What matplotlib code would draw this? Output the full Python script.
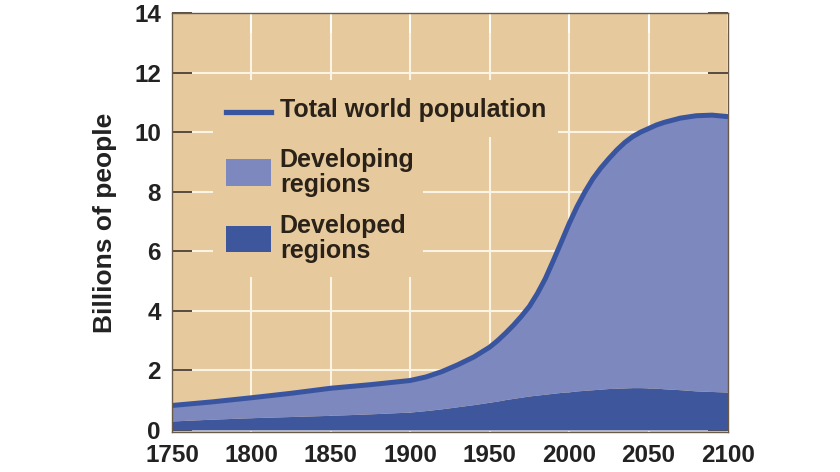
import matplotlib
matplotlib.use("Agg")
import matplotlib.pyplot as plt
from matplotlib.patches import Rectangle
from matplotlib.lines import Line2D

years = [1750, 1775, 1800, 1825, 1850, 1875, 1900, 1910, 1920, 1930, 1940, 1950,
         1955, 1960, 1965, 1970, 1975, 1980, 1985, 1990, 1995, 2000, 2005, 2010,
         2015, 2020, 2025, 2030, 2035, 2040, 2045, 2050, 2055, 2060, 2070, 2080,
         2090, 2100]
total = [0.82, 0.94, 1.08, 1.23, 1.40, 1.52, 1.66, 1.78, 1.96, 2.19, 2.45, 2.78,
         3.00, 3.25, 3.52, 3.82, 4.15, 4.58, 5.08, 5.68, 6.30, 6.93, 7.50, 8.00,
         8.44, 8.80, 9.11, 9.40, 9.65, 9.85, 10.00, 10.12, 10.24, 10.33, 10.47, 10.55,
         10.57, 10.52]
developed = [0.30, 0.36, 0.41, 0.45, 0.49, 0.54, 0.60, 0.65, 0.71, 0.78, 0.85, 0.93,
             0.97, 1.02, 1.06, 1.10, 1.14, 1.17, 1.20, 1.23, 1.26, 1.28, 1.31, 1.33,
             1.35, 1.37, 1.39, 1.40, 1.41, 1.42, 1.42, 1.41, 1.40, 1.38, 1.35, 1.31,
             1.29, 1.27]
x_ticks = [1750, 1800, 1850, 1900, 1950, 2000, 2050, 2100]
y_ticks = [0, 2, 4, 6, 8, 10, 12, 14]
legend_labels = ["Total world population", "Developing\nregions", "Developed\nregions"]

BG = "#E6CA9E"
DEVELOPING = "#7D88BF"
DEVELOPED = "#3E569C"
LINE = "#3A55A0"
GRID = "#FBF3E3"
DARK = "#4A3C30"
FONT = ["Liberation Sans", "DejaVu Sans"]

plt.rcParams["font.family"] = FONT
plt.rcParams["font.weight"] = "bold"

fig = plt.figure(figsize=(8.4, 4.72), dpi=100)
ax = fig.add_axes([172 / 840, 1 - 432 / 472, 556 / 840, 419 / 472])
ax.set_facecolor(BG)
ax.set_xlim(1750, 2100)
ax.set_ylim(-0.07, 14)

# grid
ax.set_xticks(x_ticks)
ax.set_yticks(y_ticks)
ax.grid(True, color=GRID, linewidth=1.5, zorder=0)
ax.set_axisbelow(True)

# masks behind the legend text (break the grid)
ax.add_patch(Rectangle((0.074, 0.704), 0.62, 0.136, transform=ax.transAxes,
                       facecolor=BG, edgecolor="none", zorder=1))
ax.add_patch(Rectangle((0.074, 0.370), 0.377, 0.334, transform=ax.transAxes,
                       facecolor=BG, edgecolor="none", zorder=1))

# areas
ax.fill_between(years, 0, developed, color=DEVELOPED, linewidth=0, zorder=2)
ax.fill_between(years, developed, total, color=DEVELOPING, linewidth=0, zorder=2)
ax.plot(years, total, color=LINE, linewidth=3.6, solid_capstyle="butt",
        solid_joinstyle="round", zorder=3)

# ticks
ax.tick_params(axis="both", direction="in", length=14.5, width=1.3,
               top=True, right=True, labelsize=17.5, colors=DARK)
ax.tick_params(axis="x", bottom=True, color="white", pad=9, labelcolor="#222222")
ax.tick_params(axis="y", pad=8, labelcolor="#222222")
for t in ax.xaxis.get_major_ticks():
    t.tick1line.set_color("white")
    t.tick2line.set_color(DARK)
for t, v in zip(ax.yaxis.get_major_ticks(), y_ticks):
    t.tick1line.set_color(DARK if v > total[0] else "none")
    t.tick2line.set_color(DARK if v > total[-1] else GRID)
for lab in ax.get_xticklabels() + ax.get_yticklabels():
    lab.set_fontweight("bold")

for s in ax.spines.values():
    s.set_color("#6a5a4a")
    s.set_linewidth(1.0)
    s.set_zorder(4)

ax.set_ylabel("Billions of people", fontsize=19, fontweight="bold",
              color="#222222", labelpad=12)

# legend (manual)
ax.add_line(Line2D([0.097, 0.178], [0.764, 0.764], transform=ax.transAxes,
                   color=LINE, linewidth=3.8, zorder=5))
ax.add_patch(Rectangle((0.097, 0.587), 0.081, 0.065, transform=ax.transAxes,
                       facecolor=DEVELOPING, edgecolor="none", zorder=5))
ax.add_patch(Rectangle((0.097, 0.430), 0.081, 0.062, transform=ax.transAxes,
                       facecolor=DEVELOPED, edgecolor="none", zorder=5))
for lab, yy in zip(legend_labels, [0.768, 0.619, 0.461]):
    ax.text(0.194, yy, lab, transform=ax.transAxes, fontsize=18,
            fontweight="bold", color="#2a2218", va="center", ha="left",
            linespacing=1.06, zorder=5)

fig.savefig("out.png", dpi=100, facecolor="white")
